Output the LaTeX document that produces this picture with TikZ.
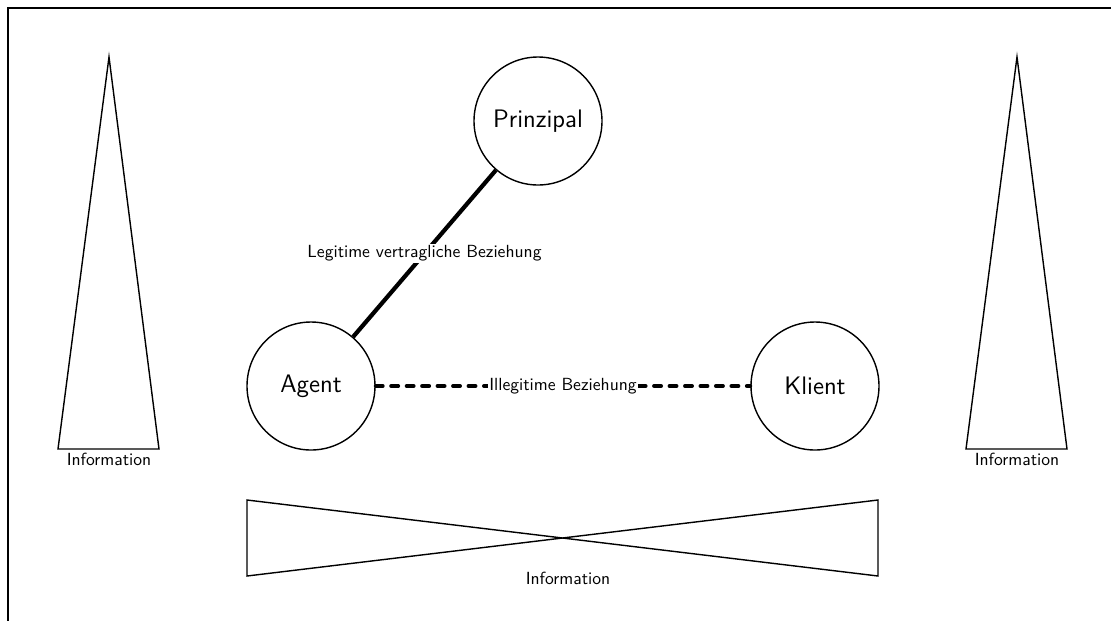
\documentclass[tikz,border=0pt]{standalone}
\usepackage{tikz}
\usepackage{xcolor}

\begin{document}
\begin{tikzpicture}[font=\sffamily,
    party/.style={circle, draw, thick, minimum size=2.56cm, font=\sffamily\Large},
    rel/.style={fill=white, inner sep=1pt},
    info/.style={below, inner sep=2pt}]
        \useasboundingbox (0, 0) rectangle (22.22, -12.4);
        % Frame
        \draw[thick] (0.16, -12.6) -- (0.16, -0.16) -- (22.4, -0.16);

        % Pieces
        \node[party] (P) at (10.76, -2.42) {Prinzipal};
        \node[party] (A) at (6.22, -7.72) {Agent};
        \node[party] (K) at (16.3, -7.72) {Klient};

        % Information
        \coordinate (L0) at (2.18, -1.14);
        \coordinate (L1) at (1.16, -8.98);
        \coordinate (L2) at (3.18, -8.98);
        \draw[thick] (L0) -- (L1) -- (L2) -- cycle;
        \node[info] (IL) at (2.18, -8.98) {Information};

        \coordinate (R0) at (20.34, -1.14);
        \coordinate (R1) at (19.32, -8.98);
        \coordinate (R2) at (21.34, -8.98);
        \draw[thick] (R0) -- (R1) -- (R2) -- cycle;
        \node[info] (IR) at (20.34, -8.98) {Information};

        \coordinate (B1) at (4.94, -10.0);
        \coordinate (B2) at (17.56, -11.52);
        \coordinate (B3) at (17.56, -10.0);
        \coordinate (B4) at (4.94, -11.52);
        \draw[thick] (B1) -- (B2) -- (B3) -- (B4) -- cycle;
        \node[info] (IB) at (11.36, -11.36) {Information};

        % Arrows
        \draw[line width=2.4pt] (P) -- (A) node[midway, rel] {Legitime vertragliche Beziehung};
        \draw[line width=2.2pt, line cap=round, dash pattern=on 4pt off 4.8pt] (A) -- (K)
            node[midway, rel] {Illegitime Beziehung};
    \end{tikzpicture}
\end{document}
